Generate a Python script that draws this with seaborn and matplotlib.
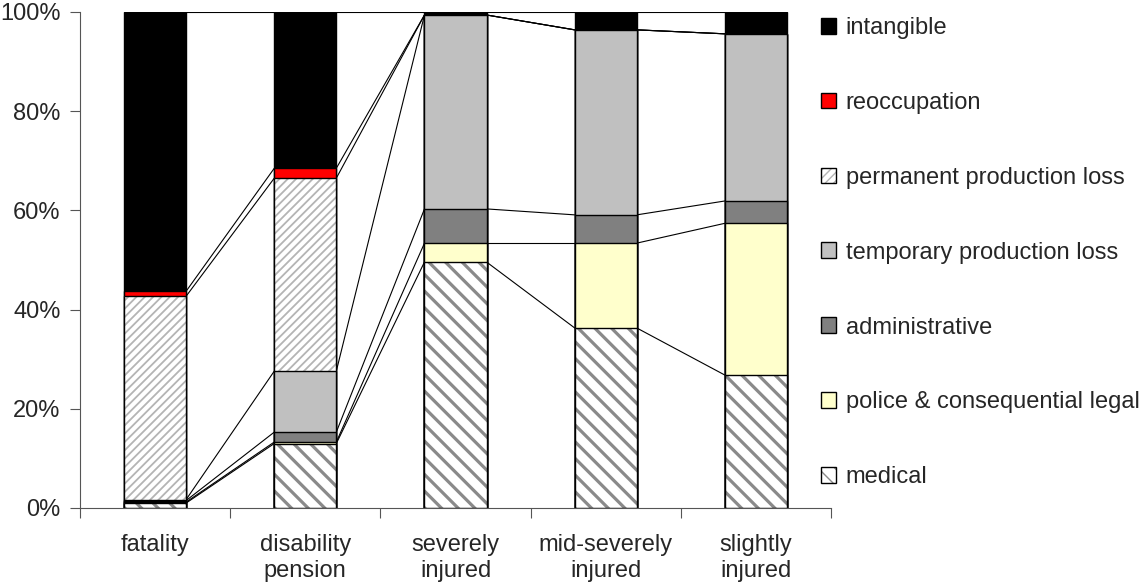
import matplotlib
matplotlib.use("Agg")
import matplotlib.pyplot as plt
from matplotlib.patches import Patch
from matplotlib.ticker import FixedLocator, FuncFormatter
import numpy as np
import pandas as pd
import seaborn as sns

categories = ["fatality", "disability\npension", "severely\ninjured",
              "mid-severely\ninjured", "slightly\ninjured"]

# cost shares in %, bottom of the stack first
medical = [1.0, 13.0, 49.6, 36.3, 26.8]
police = [0.2, 0.3, 3.8, 17.1, 30.6]
administrative = [0.3, 2.0, 6.9, 5.7, 4.5]
temporary = [0.2, 12.3, 39.1, 37.3, 33.7]
permanent = [41.0, 38.9, 0.0, 0.0, 0.0]
reoccupation = [1.0, 2.0, 0.0, 0.0, 0.0]
intangible = [56.3, 31.5, 0.6, 3.6, 4.4]

series_names = ["medical", "police & consequential legal", "administrative",
                "temporary production loss", "permanent production loss",
                "reoccupation", "intangible"]
series_values = [medical, police, administrative, temporary, permanent,
                 reoccupation, intangible]

# look of each series: face, hatch, hatch colour, hatch width
styles = {
    "medical": ("white", "\\\\", "#8a8a8a", 2.3),
    "police & consequential legal": ("#ffffcc", None, None, 0),
    "administrative": ("#808080", None, None, 0),
    "temporary production loss": ("#c0c0c0", None, None, 0),
    "permanent production loss": ("white", "////", "#b4b4b4", 1.3),
    "reoccupation": ("#ff0000", None, None, 0),
    "intangible": ("black", None, None, 0),
}

cum = np.cumsum(np.array(series_values), axis=0)
df = pd.DataFrame([
    {"category": c, "series": s, "top": cum[k, i]}
    for k, s in enumerate(series_names)
    for i, c in enumerate(categories)
])

sns.set_style("ticks")
plt.rcParams["font.family"] = ["Liberation Sans", "DejaVu Sans"]
plt.rcParams["font.size"] = 17

fig = plt.figure(figsize=(11.42, 5.86), dpi=100)
ax = fig.add_axes([80 / 1142, 1 - 508 / 586, 751 / 1142, 496 / 586])

bar_w = 0.413
# draw cumulative bars from the top of the stack down, each one covers the rest
for s in reversed(series_names):
    face, hatch, hcol, hlw = styles[s]
    sub = df[df["series"] == s]
    if hatch:
        with plt.rc_context({"hatch.linewidth": hlw}):
            sns.barplot(data=sub, x="category", y="top", order=categories,
                        color=face, saturation=1, errorbar=None, width=bar_w,
                        hatch=hatch, edgecolor=hcol, linewidth=0, ax=ax,
                        zorder=2)
            for p in ax.containers[-1]:
                if hasattr(p, "set_hatch_linewidth"):
                    p.set_hatch_linewidth(hlw)
        sns.barplot(data=sub, x="category", y="top", order=categories,
                    fill=False, errorbar=None, width=bar_w,
                    edgecolor="black", linewidth=1.0, ax=ax, zorder=2)
    else:
        sns.barplot(data=sub, x="category", y="top", order=categories,
                    color=face, saturation=1, errorbar=None, width=bar_w,
                    edgecolor="black", linewidth=1.0, ax=ax, zorder=2)

# series lines between neighbouring bars
xs = np.arange(len(categories))
for k in range(len(series_names)):
    for i in range(len(categories) - 1):
        ax.plot([xs[i] + bar_w / 2, xs[i + 1] - bar_w / 2],
                [cum[k, i], cum[k, i + 1]], color="black", lw=0.8, zorder=1)

ax.set_xlim(-0.5, len(categories) - 0.5)
ax.set_ylim(0, 100)
ax.set_xlabel("")
ax.set_ylabel("")
ax.yaxis.set_major_locator(FixedLocator([0, 20, 40, 60, 80, 100]))
ax.yaxis.set_major_formatter(FuncFormatter(lambda v, _: f"{v:.0f}%"))
ax.xaxis.set_minor_locator(FixedLocator(np.arange(-0.5, len(categories), 1.0)))
ax.tick_params(axis="x", which="major", length=0, pad=19)
ax.tick_params(axis="x", which="minor", length=7, color="#555555", width=0.8)
ax.tick_params(axis="y", length=7, color="#555555", width=0.8, pad=7)
for side in ["top", "right"]:
    ax.spines[side].set_visible(False)
for side in ["left", "bottom"]:
    ax.spines[side].set_color("#555555")
    ax.spines[side].set_linewidth(0.8)

handles = []
for s in reversed(series_names):
    face, hatch, hcol, hlw = styles[s]
    if hatch:
        with plt.rc_context({"hatch.linewidth": hlw}):
            h1 = Patch(facecolor=face, edgecolor=hcol, hatch=hatch, linewidth=0)
        handles.append((h1, Patch(facecolor="none", edgecolor="black", linewidth=1.0)))
    else:
        handles.append(Patch(facecolor=face, edgecolor="black", linewidth=1.0))
fig.legend(handles, list(reversed(series_names)), loc="upper left",
           bbox_to_anchor=(821 / 1142, 1 - 17 / 586), frameon=False,
           handlelength=0.65, handleheight=0.65, handletextpad=0.4,
           labelspacing=2.24, borderaxespad=0, borderpad=0)

fig.savefig("out.png", dpi=100)
